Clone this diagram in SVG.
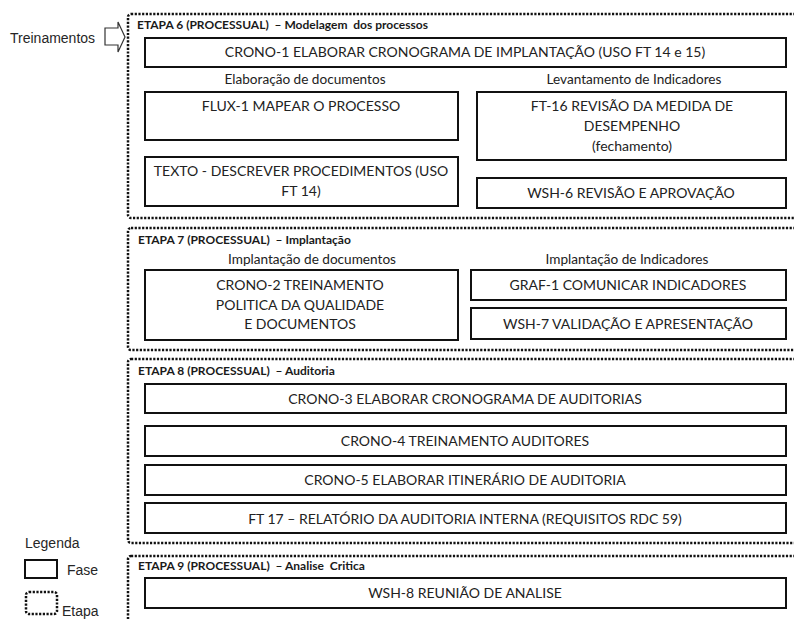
<svg xmlns="http://www.w3.org/2000/svg" width="794" height="619" viewBox="0 0 794 619">
  <style>
    .bg { fill: #ffffff; }
    .stage { fill: none; stroke: #111; stroke-width: 2.5; stroke-dasharray: 2.2 1.5; }
    .phase { fill: #ffffff; stroke: #111; stroke-width: 2; }
    .t { font-family: Lato, "Liberation Sans", sans-serif; font-size: 14px; fill: #222; text-anchor: middle; }
    .sub { font-family: Lato, "Liberation Sans", sans-serif; font-size: 13.6px; fill: #222; text-anchor: middle; }
    .st { font-family: Lato, "Liberation Sans", sans-serif; font-size: 12px; font-weight: bold; fill: #1a1a1a; white-space: pre; }
    .leg { font-family: "Liberation Sans", Arial, sans-serif; font-size: 14px; fill: #262626; }
  </style>

  <rect class="bg" x="0" y="0" width="794" height="619"/>

  <!-- Stage frames (open to the right edge) -->
  <g id="etapa-6">
    <rect class="stage" x="128" y="14" width="700" height="204" rx="3"/>
    <text class="st" x="137" y="29">ETAPA 6 (PROCESSUAL)  – Modelagem  dos processos</text>
  </g>
  <g id="etapa-7">
    <rect class="stage" x="128" y="228" width="700" height="122" rx="3"/>
    <text class="st" x="138" y="244">ETAPA 7 (PROCESSUAL)  – Implantação</text>
  </g>
  <g id="etapa-8">
    <rect class="stage" x="128" y="359" width="700" height="184" rx="3"/>
    <text class="st" x="138" y="375">ETAPA 8 (PROCESSUAL)  – Auditoria</text>
  </g>
  <g id="etapa-9">
    <rect class="stage" x="128" y="556" width="700" height="90" rx="3"/>
    <text class="st" x="138" y="570">ETAPA 9 (PROCESSUAL)  – Analise  Critica</text>
  </g>

  <!-- Entry label and block arrow -->
  <g id="treinamentos">
    <text class="leg" x="10" y="43">Treinamentos</text>
  </g>
  <g id="connectors">
    <path d="M105,28 H118 V22 L125,37 L118,52 V45 H105 Z" fill="#ffffff" stroke="#333" stroke-width="1.2"/>
  </g>

  <!-- Etapa 6 -->
  <g id="crono-1">
    <rect class="phase" x="145" y="38" width="641" height="29"/>
    <text class="t" x="465" y="57">CRONO-1 ELABORAR CRONOGRAMA DE IMPLANTAÇÃO (USO FT 14 e 15)</text>
  </g>
  <text class="sub" x="305" y="84">Elaboração de documentos</text>
  <text class="sub" x="634" y="84">Levantamento de Indicadores</text>
  <g id="flux-1">
    <rect class="phase" x="145" y="92" width="313" height="48"/>
    <text class="t" x="301" y="111">FLUX-1 MAPEAR O PROCESSO</text>
  </g>
  <g id="texto">
    <rect class="phase" x="145" y="157" width="313" height="49"/>
    <text class="t" x="301" y="176">TEXTO - DESCREVER PROCEDIMENTOS (USO</text>
    <text class="t" x="301" y="196">FT 14)</text>
  </g>
  <g id="ft-16">
    <rect class="phase" x="477" y="92" width="309" height="68"/>
    <text class="t" x="632" y="111">FT-16 REVISÃO DA MEDIDA DE</text>
    <text class="t" x="632" y="131">DESEMPENHO</text>
    <text class="t" x="632" y="151">(fechamento)</text>
  </g>
  <g id="wsh-6">
    <rect class="phase" x="477" y="178" width="309" height="30"/>
    <text class="t" x="631" y="198">WSH-6 REVISÃO E APROVAÇÃO</text>
  </g>

  <!-- Etapa 7 -->
  <text class="sub" x="312" y="264">Implantação de documentos</text>
  <text class="sub" x="627" y="264">Implantação de Indicadores</text>
  <g id="crono-2">
    <rect class="phase" x="145" y="270" width="313" height="70"/>
    <text class="t" x="300" y="290">CRONO-2 TREINAMENTO</text>
    <text class="t" x="300" y="310">POLITICA DA QUALIDADE</text>
    <text class="t" x="300" y="329">E DOCUMENTOS</text>
  </g>
  <g id="graf-1">
    <rect class="phase" x="471" y="270" width="315" height="30"/>
    <text class="t" x="628" y="290">GRAF-1 COMUNICAR INDICADORES</text>
  </g>
  <g id="wsh-7">
    <rect class="phase" x="471" y="308" width="315" height="31"/>
    <text class="t" x="628" y="329">WSH-7 VALIDAÇÃO E APRESENTAÇÃO</text>
  </g>

  <!-- Etapa 8 -->
  <g id="crono-3">
    <rect class="phase" x="145" y="384" width="641" height="29"/>
    <text class="t" x="465" y="404">CRONO-3 ELABORAR CRONOGRAMA DE AUDITORIAS</text>
  </g>
  <g id="crono-4">
    <rect class="phase" x="145" y="426" width="641" height="30"/>
    <text class="t" x="465" y="446">CRONO-4 TREINAMENTO AUDITORES</text>
  </g>
  <g id="crono-5">
    <rect class="phase" x="145" y="465" width="641" height="30"/>
    <text class="t" x="465" y="485">CRONO-5 ELABORAR ITINERÁRIO DE AUDITORIA</text>
  </g>
  <g id="ft-17">
    <rect class="phase" x="145" y="503" width="641" height="30"/>
    <text class="t" x="465" y="524">FT 17 – RELATÓRIO DA AUDITORIA INTERNA (REQUISITOS RDC 59)</text>
  </g>

  <!-- Etapa 9 -->
  <g id="wsh-8">
    <rect class="phase" x="145" y="578" width="641" height="30"/>
    <text class="t" x="465" y="598">WSH-8 REUNIÃO DE ANALISE</text>
  </g>

  <!-- Legend -->
  <g id="legenda">
    <text class="leg" x="25" y="548">Legenda</text>
    <rect x="25" y="560" width="32" height="18" fill="#fff" stroke="#111" stroke-width="2"/>
    <text class="leg" x="67" y="575">Fase</text>
    <rect class="stage" x="26" y="592" width="31" height="22" rx="3"/>
    <text class="leg" x="62" y="616">Etapa</text>
  </g>
</svg>
